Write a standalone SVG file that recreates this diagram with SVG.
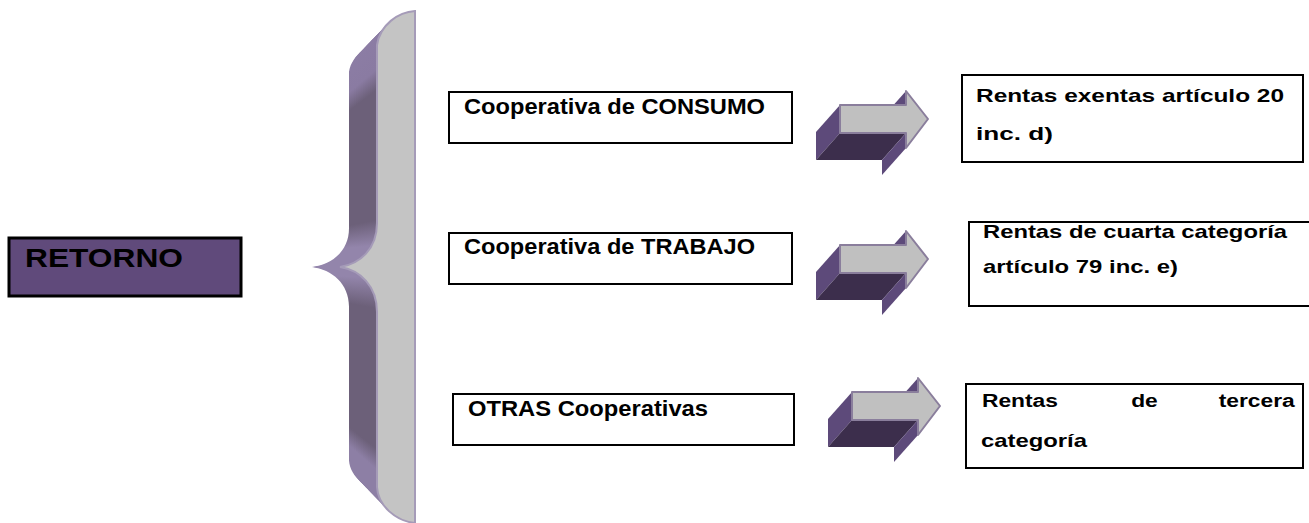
<svg xmlns="http://www.w3.org/2000/svg" xmlns:xlink="http://www.w3.org/1999/xlink" width="1309" height="523" viewBox="0 0 1309 523">
<style>
.box{fill:#ffffff;stroke:#000000;stroke-width:2}
.t{font-family:"Liberation Sans",Arial,sans-serif;font-weight:bold;fill:#000000}
.t22{font-size:22px}
.t19{font-size:19px}
.side{fill:#5d4a7a}
.dark{fill:#3c2e4c}
.front{fill:#c0c0c0;stroke:#8a7e9c;stroke-width:2;stroke-linejoin:round}
</style>
<defs>
<linearGradient id="braceGrad" gradientUnits="userSpaceOnUse" x1="0" y1="0" x2="0" y2="523">
<stop offset="0" stop-color="#8d7ea6"/>
<stop offset="0.13" stop-color="#8a7ba2"/>
<stop offset="0.17" stop-color="#6c6079"/>
<stop offset="0.42" stop-color="#6c6079"/>
<stop offset="0.47" stop-color="#9385ab"/>
<stop offset="0.53" stop-color="#9385ab"/>
<stop offset="0.59" stop-color="#6c6079"/>
<stop offset="0.86" stop-color="#6c6079"/>
<stop offset="0.9" stop-color="#8d7fa5"/>
<stop offset="1" stop-color="#8d7fa5"/>
</linearGradient>
<path id="braceShape" d="M 377,45 C 380,25 398,12 415,11 L 415,523 C 396,521 378,506 377,487 L 377,312 C 377,286 360,270 340,267 C 360,264 377,249 377,223 Z"/>
<g id="arrow">
<polygon class="side" points="840,105 816,132 816,160 840,133"/>
<polygon class="dark" points="840,133 816,160 882,160 906,133"/>
<polygon class="side" points="906,133 906,148 882,175 882,160"/>
<polygon class="side" points="906,91 906,105 882,132 882,118"/>
<polygon class="front" points="840,105 906,105 906,91 928,119 906,148 906,133 840,133"/>
</g>
</defs>

<g id="brace">
<g fill="url(#braceGrad)">
<use href="#braceShape" transform="matrix(1,0,0,0.88,-28,32.04)"/>
<use href="#braceShape" transform="matrix(1,0,0,0.8875,-26.25,30.04)"/>
<use href="#braceShape" transform="matrix(1,0,0,0.895,-24.5,28.04)"/>
<use href="#braceShape" transform="matrix(1,0,0,0.9025,-22.75,26.03)"/>
<use href="#braceShape" transform="matrix(1,0,0,0.91,-21,24.03)"/>
<use href="#braceShape" transform="matrix(1,0,0,0.9175,-19.25,22.03)"/>
<use href="#braceShape" transform="matrix(1,0,0,0.925,-17.5,20.03)"/>
<use href="#braceShape" transform="matrix(1,0,0,0.9325,-15.75,18.02)"/>
<use href="#braceShape" transform="matrix(1,0,0,0.94,-14,16.02)"/>
<use href="#braceShape" transform="matrix(1,0,0,0.9475,-12.25,14.02)"/>
<use href="#braceShape" transform="matrix(1,0,0,0.955,-10.5,12.02)"/>
<use href="#braceShape" transform="matrix(1,0,0,0.9625,-8.75,10.01)"/>
<use href="#braceShape" transform="matrix(1,0,0,0.97,-7,8.01)"/>
<use href="#braceShape" transform="matrix(1,0,0,0.9775,-5.25,6.01)"/>
<use href="#braceShape" transform="matrix(1,0,0,0.985,-3.5,4.01)"/>
<use href="#braceShape" transform="matrix(1,0,0,0.9925,-1.75,2)"/>
</g>
<use href="#braceShape" fill="#c4c4c4" stroke="#a59bb8" stroke-width="2"/>
</g>

<g id="retorno">
<rect x="9" y="238" width="232" height="58" fill="#604a7b" stroke="#000000" stroke-width="3"/>
<text class="t" x="25" y="267" font-size="26" textLength="158" lengthAdjust="spacingAndGlyphs">RETORNO</text>
</g>

<g id="consumo">
<rect class="box" x="449" y="92" width="343" height="51"/>
<text class="t t22" x="464" y="114" textLength="301" lengthAdjust="spacingAndGlyphs">Cooperativa de CONSUMO</text>
</g>

<g id="trabajo">
<rect class="box" x="449" y="233" width="343" height="51"/>
<text class="t t22" x="464" y="254" textLength="291" lengthAdjust="spacingAndGlyphs">Cooperativa de TRABAJO</text>
</g>

<g id="otras">
<rect class="box" x="453" y="394" width="341" height="51"/>
<text class="t t22" x="468" y="416" textLength="240" lengthAdjust="spacingAndGlyphs">OTRAS Cooperativas</text>
</g>

<g id="rentas-exentas">
<rect class="box" x="962" y="75" width="341" height="87"/>
<text class="t t19" x="976" y="102" textLength="308" lengthAdjust="spacingAndGlyphs">Rentas exentas artículo 20</text>
<text class="t t19" x="976" y="140" textLength="77" lengthAdjust="spacingAndGlyphs">inc. d)</text>
</g>

<g id="rentas-cuarta">
<rect class="box" x="969" y="222" width="345" height="84"/>
<text class="t t19" x="983" y="238" textLength="304" lengthAdjust="spacingAndGlyphs">Rentas de cuarta categoría</text>
<text class="t t19" x="983" y="273" textLength="195" lengthAdjust="spacingAndGlyphs">artículo 79 inc. e)</text>
</g>

<g id="rentas-tercera">
<rect class="box" x="966" y="384" width="337" height="84"/>
<text class="t t19" transform="translate(982,407) scale(1.2,1)"><tspan x="0">Rentas</tspan><tspan x="119"> de</tspan><tspan x="192"> tercera</tspan></text>
<text class="t t19" x="981" y="447" textLength="106" lengthAdjust="spacingAndGlyphs">categoría</text>
</g>

<g id="connectors">
<use href="#arrow"/>
<use href="#arrow" transform="translate(0,140)"/>
<use href="#arrow" transform="translate(12,287)"/>
</g>
</svg>
